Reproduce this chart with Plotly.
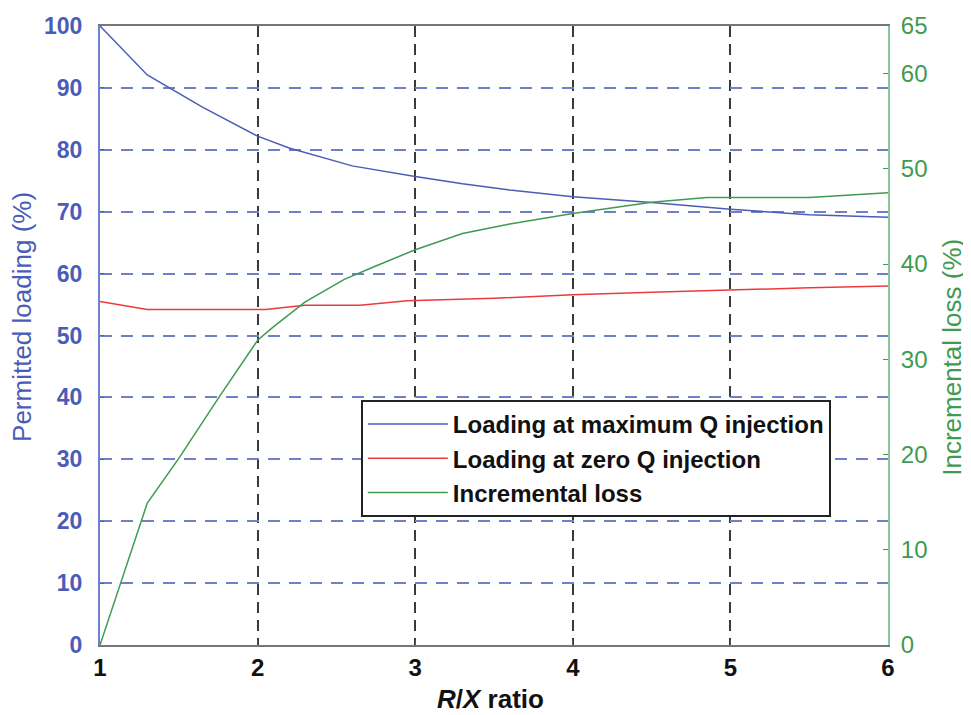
import plotly.graph_objects as go

# Data
x_blue = [1.0, 1.3, 1.65, 2.0, 2.2, 2.6, 3.0, 3.3, 3.6, 4.0, 4.5, 5.0, 5.5, 6.0]
loading_max_q = [100.0, 92.1, 86.9, 82.2, 80.3, 77.4, 75.7, 74.5, 73.5, 72.4, 71.5, 70.4, 69.5, 69.1]

x_red = [1.0, 1.3, 2.05, 2.3, 2.65, 2.95, 3.5, 4.0, 4.5, 5.0, 5.5, 6.0]
loading_zero_q = [55.5, 54.2, 54.2, 54.9, 54.9, 55.6, 56.0, 56.6, 57.0, 57.4, 57.7, 58.0]

x_green = [1.0, 1.3, 1.5, 1.75, 2.0, 2.1, 2.3, 2.55, 2.75, 3.0, 3.3, 3.6, 4.0, 4.5, 4.85, 5.5, 6.0]
incremental_loss = [0.0, 14.9, 19.6, 25.9, 32.0, 33.4, 36.0, 38.4, 39.8, 41.5, 43.2, 44.2, 45.3, 46.5, 47.0, 47.0, 47.5]

x_ticks = [1, 2, 3, 4, 5, 6]
left_ticks = [0, 10, 20, 30, 40, 50, 60, 70, 80, 90, 100]
right_ticks = [0, 10, 20, 30, 40, 50, 60, 65]

BLUE = "#4a5cb8"
RED = "#ec3a3c"
GREEN = "#3f9a52"
FONT = "Liberation Sans, Arial, sans-serif"

fig = go.Figure()
fig.add_trace(go.Scatter(x=x_blue, y=loading_max_q, mode="lines",
                         line=dict(color=BLUE, width=1.5),
                         name="<b>Loading at maximum Q injection</b>"))
fig.add_trace(go.Scatter(x=x_red, y=loading_zero_q, mode="lines",
                         line=dict(color=RED, width=1.5),
                         name="<b>Loading at zero Q injection</b>"))
fig.add_trace(go.Scatter(x=x_green, y=incremental_loss, mode="lines", yaxis="y2",
                         line=dict(color=GREEN, width=1.5),
                         name="<b>Incremental loss</b>"))

fig.update_layout(
    width=971, height=715,
    margin=dict(l=92, r=91, t=18, b=78),
    paper_bgcolor="white", plot_bgcolor="white",
    font=dict(family=FONT),
    showlegend=True,
    legend=dict(x=0.331, y=0.396, xanchor="left", yanchor="top",
                bgcolor="white", bordercolor="#222222", borderwidth=2,
                font=dict(size=24, color="#111111", family=FONT),
                tracegroupgap=0, itemwidth=80),
    xaxis=dict(range=[1, 6], tickvals=x_ticks, ticktext=[f"<b>{v}</b>" for v in x_ticks],
               tickfont=dict(size=24, color="#111111"), automargin=False,
               showline=True, linecolor="#777777", linewidth=2, mirror=True,
               showgrid=True, gridcolor="#3a3a3a", gridwidth=1.6, griddash="11px,7px",
               ticks="inside", ticklen=5, tickcolor="#555555",
               zeroline=False),
    yaxis=dict(range=[0, 100], tickvals=left_ticks, ticktext=[f"<b>{v}</b>" for v in left_ticks],
               tickfont=dict(size=23, color=BLUE), automargin=False,
               showline=True, linecolor="#7080cc", linewidth=2,
               showgrid=True, gridcolor="#6f7fc8", gridwidth=1.6, griddash="12px,9px",
               ticks="inside", ticklen=4, tickcolor=BLUE, ticklabelstandoff=11,
               zeroline=False),
    yaxis2=dict(range=[0, 65], tickvals=right_ticks, overlaying="y", side="right",
                tickfont=dict(size=24, color=GREEN), automargin=False,
                showline=True, linecolor="#8cc79a", linewidth=2,
                showgrid=False, zeroline=False,
                ticks="inside", ticklen=5, tickcolor=GREEN, ticklabelstandoff=6),
    annotations=[
        dict(text="Permitted loading (%)", xref="paper", yref="paper", x=0, y=0.530,
             xshift=-78, xanchor="center", yanchor="middle", textangle=-90,
             showarrow=False, font=dict(size=26, color=BLUE)),
        dict(text="Incremental loss (%)", xref="paper", yref="paper", x=1, y=0.464,
             xshift=64, xanchor="center", yanchor="middle", textangle=-90,
             showarrow=False, font=dict(size=26, color=GREEN)),
        dict(text="<b><i>R</i>/<i>X</i> ratio</b>", xref="paper", yref="paper", x=0.495, y=-0.088,
             xanchor="center", yanchor="middle", showarrow=False,
             font=dict(size=26, color="#111111")),
    ],
)

fig.write_html("out.html")
